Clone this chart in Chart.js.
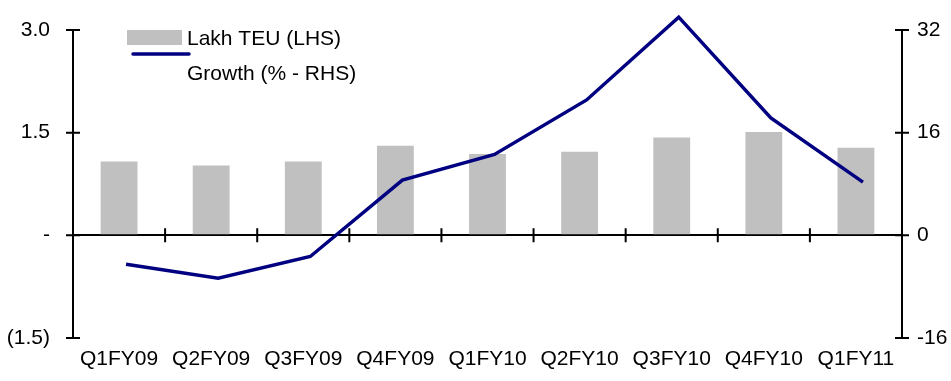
<!DOCTYPE html>
<html>
<head>
<meta charset="utf-8">
<script src="https://cdn.jsdelivr.net/npm/chart.js@4"></script>
<style>
  body { margin: 0; background: #fff; }
</style>
</head>
<body>
<canvas id="grafica" width="951" height="381"></canvas>
<script>
// datos
var trimestres = ['Q1FY09', 'Q2FY09', 'Q3FY09', 'Q4FY09', 'Q1FY10', 'Q2FY10', 'Q3FY10', 'Q4FY10', 'Q1FY11'];
var lakhTeu = [1.08, 1.02, 1.08, 1.31, 1.19, 1.22, 1.43, 1.51, 1.28];
var crecimiento = [-4.5, -6.7, -3.3, 8.6, 12.6, 21.1, 34.0, 18.3, 8.3];
var ticksIzq = ['3.0', '1.5', '-', '(1.5)'];
var ticksDer = ['32', '16', '0', '-16'];

Chart.defaults.font.family = '"Liberation Sans", Arial, sans-serif';
Chart.defaults.font.size = 21;
Chart.defaults.color = '#000';

// marcas de los ejes que cruzan la linea del eje
var marcasEjes = {
        id: 'marcasEjes',
        afterDraw: function (chart) {
                var ctx = chart.ctx;
                var area = chart.chartArea;
                var yIzq = chart.scales.y;
                var yDer = chart.scales.y2;
                var x = chart.scales.x;
                var cero = yIzq.getPixelForValue(0);
                ctx.save();
                ctx.strokeStyle = '#000';
                ctx.lineWidth = 2;
                ctx.beginPath();
                yIzq.ticks.forEach(function (t) {
                        var py = yIzq.getPixelForValue(t.value);
                        ctx.moveTo(area.left - 7, py);
                        ctx.lineTo(area.left + 7, py);
                });
                yDer.ticks.forEach(function (t) {
                        var py = yDer.getPixelForValue(t.value);
                        ctx.moveTo(area.right - 7, py);
                        ctx.lineTo(area.right + 7, py);
                });
                for (var i = 1; i < trimestres.length; i++) {
                        var px = (x.getPixelForValue(i - 1) + x.getPixelForValue(i)) / 2;
                        ctx.moveTo(px, cero - 7);
                        ctx.lineTo(px, cero + 7);
                }
                ctx.stroke();
                ctx.restore();
        }
};

// en el original la linea va un poco corrida a la derecha
var corrimientoLinea = {
        id: 'corrimientoLinea',
        beforeDatasetDraw: function (chart, args) {
                if (args.meta.type === 'line') {
                        chart.ctx.save();
                        chart.ctx.translate(7, 0);
                }
        },
        afterDatasetDraw: function (chart, args) {
                if (args.meta.type === 'line') {
                        chart.ctx.restore();
                }
        }
};

// leyenda a mano, en dos filas
var leyenda = {
        id: 'leyenda',
        afterDraw: function (chart) {
                var ctx = chart.ctx;
                var barras = chart.data.datasets[1];
                var linea = chart.data.datasets[0];
                ctx.save();
                ctx.fillStyle = barras.backgroundColor;
                ctx.fillRect(127, 30, 55, 15);
                ctx.strokeStyle = linea.borderColor;
                ctx.lineWidth = 3.5;
                ctx.lineCap = 'round';
                ctx.beginPath();
                ctx.moveTo(133, 54);
                ctx.lineTo(189, 54);
                ctx.stroke();
                ctx.fillStyle = '#000';
                ctx.font = '21px "Liberation Sans", Arial, sans-serif';
                ctx.textBaseline = 'alphabetic';
                ctx.fillText(barras.label, 187, 45);
                ctx.fillText(linea.label, 187, 80);
                ctx.restore();
        }
};

function crearGrafica(contenedorId) {
        return new Chart(document.getElementById(contenedorId).getContext('2d'), {
                type: 'bar',
                data: {
                        labels: trimestres,
                        datasets: [{
                                type: 'line',
                                label: 'Growth (% - RHS)',
                                data: crecimiento,
                                yAxisID: 'y2',
                                borderColor: '#000080',
                                borderWidth: 3.5,
                                pointRadius: 0,
                                tension: 0,
                                clip: false,
                                order: 0
                        }, {
                                label: 'Lakh TEU (LHS)',
                                data: lakhTeu,
                                yAxisID: 'y',
                                backgroundColor: '#C0C0C0',
                                barPercentage: 0.4,
                                categoryPercentage: 1,
                                order: 1
                        }]
                },
                options: {
                        responsive: false,
                        animation: false,
                        layout: { padding: { top: 30, left: 0, right: 0, bottom: 0 } },
                        plugins: {
                                legend: { display: false },
                                tooltip: { enabled: false }
                        },
                        scales: {
                                x: {
                                        grid: { display: false },
                                        border: { display: false },
                                        ticks: { padding: 1, maxRotation: 0, autoSkip: false },
                                        afterFit: function (s) { s.height = 43; }
                                },
                                y: {
                                        position: 'left',
                                        min: -1.5,
                                        max: 3,
                                        ticks: {
                                                stepSize: 1.5,
                                                padding: 0,
                                                callback: function (v, i, t) { return ticksIzq[t.length - 1 - i]; }
                                        },
                                        grid: {
                                                drawTicks: true,
                                                tickLength: 23,
                                                tickColor: 'rgba(0,0,0,0)',
                                                lineWidth: 2,
                                                color: function (c) { return c.tick && c.tick.value === 0 ? '#000' : 'rgba(0,0,0,0)'; }
                                        },
                                        border: { color: '#000', width: 2 },
                                        afterFit: function (s) { s.width = 73; }
                                },
                                y2: {
                                        position: 'right',
                                        min: -16,
                                        max: 32,
                                        ticks: {
                                                stepSize: 16,
                                                padding: 0,
                                                callback: function (v, i, t) { return ticksDer[t.length - 1 - i]; }
                                        },
                                        grid: {
                                                drawOnChartArea: false,
                                                drawTicks: true,
                                                tickLength: 15,
                                                tickColor: 'rgba(0,0,0,0)'
                                        },
                                        border: { color: '#000', width: 2 },
                                        afterFit: function (s) { s.width = 49; }
                                }
                        }
                },
                plugins: [corrimientoLinea, marcasEjes, leyenda]
        });
};

crearGrafica('grafica');
</script>
</body>
</html>
